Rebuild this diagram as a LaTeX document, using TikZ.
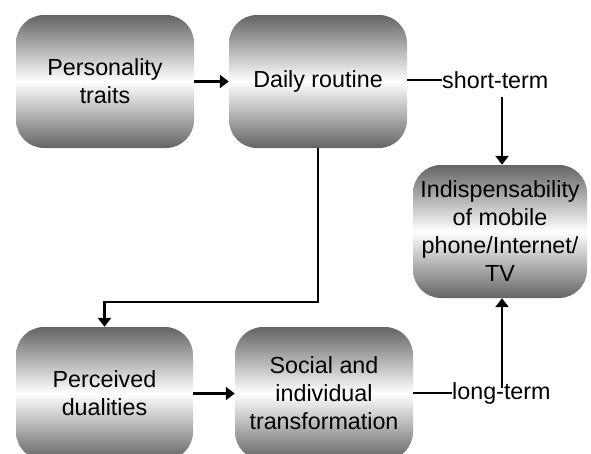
\documentclass[tikz,border=0pt]{standalone}
\usepackage{fontspec}
\setmainfont{Liberation Sans}
\usetikzlibrary{arrows.meta,calc}
\definecolor{boxgray}{RGB}{100,100,100}
\begin{document}
\begin{tikzpicture}[x=1pt,y=-1pt,
  box/.style={rectangle, rounded corners=28pt, minimum width=178pt, minimum height=133pt,
    top color=boxgray, bottom color=boxgray, middle color=white, inner sep=0pt,
    align=center, font=\fontsize{23.3}{28}\selectfont},
  lbl/.style={inner sep=0pt, anchor=west, font=\fontsize{23.3}{28}\selectfont},
  conn/.style={line width=2.4pt, black},
  arr/.style={conn, -{Triangle[length=9pt,width=13pt]}}]
\useasboundingbox (0,0) rectangle (591,453);
\clip (0,0) rectangle (591,453);
\node[box] (b1) at (105,81.5) {Personality\\traits};
\node[box] (b2) at (318,81.5) {Daily routine};
\node[box, minimum width=174pt] (b3) at (500,231.5) {Indispensability\\of mobile\\phone/Internet/\\TV};
\node[box, minimum width=177pt] (b4) at (104.5,393.5) {Perceived\\dualities};
\node[box] (b5) at (324,393.5) {Social and\\individual\\transformation};
\node[lbl] (st) at (442,80) {short-term};
\node[lbl] (lt) at (452,393) {long-term};
\coordinate (stdn) at (502,97);
\coordinate (ltup) at (502,388);
\coordinate (turn) at (0,302);
\draw[arr] (b1) -- (b2);
\draw[conn] (b2.east |- st.west) -- (st.west);
\draw[arr] (stdn) -- (stdn |- b3.north);
\draw[arr] (b2.south) -- (b2.south |- turn) -| (b4.north);
\draw[arr] (b4) -- (b5);
\draw[conn] (b5.east |- lt.west) -- (lt.west);
\draw[arr] (ltup) -- (ltup |- b3.south);
\end{tikzpicture}
\end{document}
